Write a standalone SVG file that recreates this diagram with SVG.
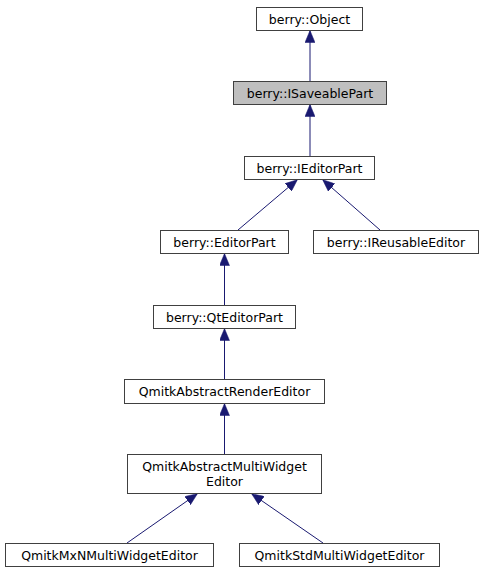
<svg xmlns="http://www.w3.org/2000/svg" width="483" height="575" viewBox="0 0 483 575">
<defs>
<style>
.box{fill:#ffffff;stroke:#404040;stroke-width:1}
.cur{fill:#bfbfbf;stroke:#404040;stroke-width:1}
text{font-family:"DejaVu Sans",Verdana,sans-serif;font-size:12.5px;fill:#000;text-anchor:middle}
.edge{stroke:#191970;stroke-width:1;fill:none;marker-end:url(#ah)}
</style>
<marker id="ah" viewBox="0 0 12 10" refX="11.5" refY="5" markerWidth="12" markerHeight="10" markerUnits="userSpaceOnUse" orient="auto">
<path d="M0,0 L12,5 L0,10 z" fill="#191970" stroke="#191970" stroke-width="0.5"/>
</marker>
</defs>
<rect width="483" height="575" fill="#ffffff"/>
<g id="edges">
<line class="edge" x1="310" y1="81" x2="310" y2="31"/>
<line class="edge" x1="310" y1="156" x2="310" y2="105"/>
<line class="edge" x1="238" y1="230" x2="297" y2="180"/>
<line class="edge" x1="380" y1="230" x2="323" y2="180"/>
<line class="edge" x1="224.5" y1="305" x2="224.5" y2="254"/>
<line class="edge" x1="224.5" y1="379" x2="224.5" y2="329"/>
<line class="edge" x1="224.5" y1="454" x2="224.5" y2="404"/>
<line class="edge" x1="127" y1="543" x2="197" y2="494"/>
<line class="edge" x1="323" y1="543" x2="252" y2="494"/>
</g>
<g id="node-object"><rect class="box" x="256.5" y="7.5" width="106" height="23"/><text x="309.5" y="23.5">berry::Object</text></g>
<g id="node-isaveablepart"><rect class="cur" x="233.5" y="81.5" width="153" height="23"/><text x="310" y="97.5">berry::ISaveablePart</text></g>
<g id="node-ieditorpart"><rect class="box" x="244.5" y="156.5" width="130" height="23"/><text x="309.5" y="172.5">berry::IEditorPart</text></g>
<g id="node-editorpart"><rect class="box" x="160.5" y="230.5" width="128" height="23"/><text x="224.5" y="246.5">berry::EditorPart</text></g>
<g id="node-ireusableeditor"><rect class="box" x="313.5" y="230.5" width="165" height="23"/><text x="396" y="246.5">berry::IReusableEditor</text></g>
<g id="node-qteditorpart"><rect class="box" x="153.5" y="305.5" width="142" height="23"/><text x="224.5" y="321.5">berry::QtEditorPart</text></g>
<g id="node-renderEditor"><rect class="box" x="124.5" y="379.5" width="200" height="24"/><text x="224.5" y="396">QmitkAbstractRenderEditor</text></g>
<g id="node-multiwidget"><rect class="box" x="127.5" y="454.5" width="194" height="39"/><text x="224.5" y="470.5">QmitkAbstractMultiWidget</text><text x="224.5" y="485.5">Editor</text></g>
<g id="node-mxn"><rect class="box" x="5.5" y="543.5" width="208" height="23"/><text x="109.5" y="559.5">QmitkMxNMultiWidgetEditor</text></g>
<g id="node-std"><rect class="box" x="239.5" y="543.5" width="200" height="23"/><text x="339.5" y="559.5">QmitkStdMultiWidgetEditor</text></g>
</svg>
